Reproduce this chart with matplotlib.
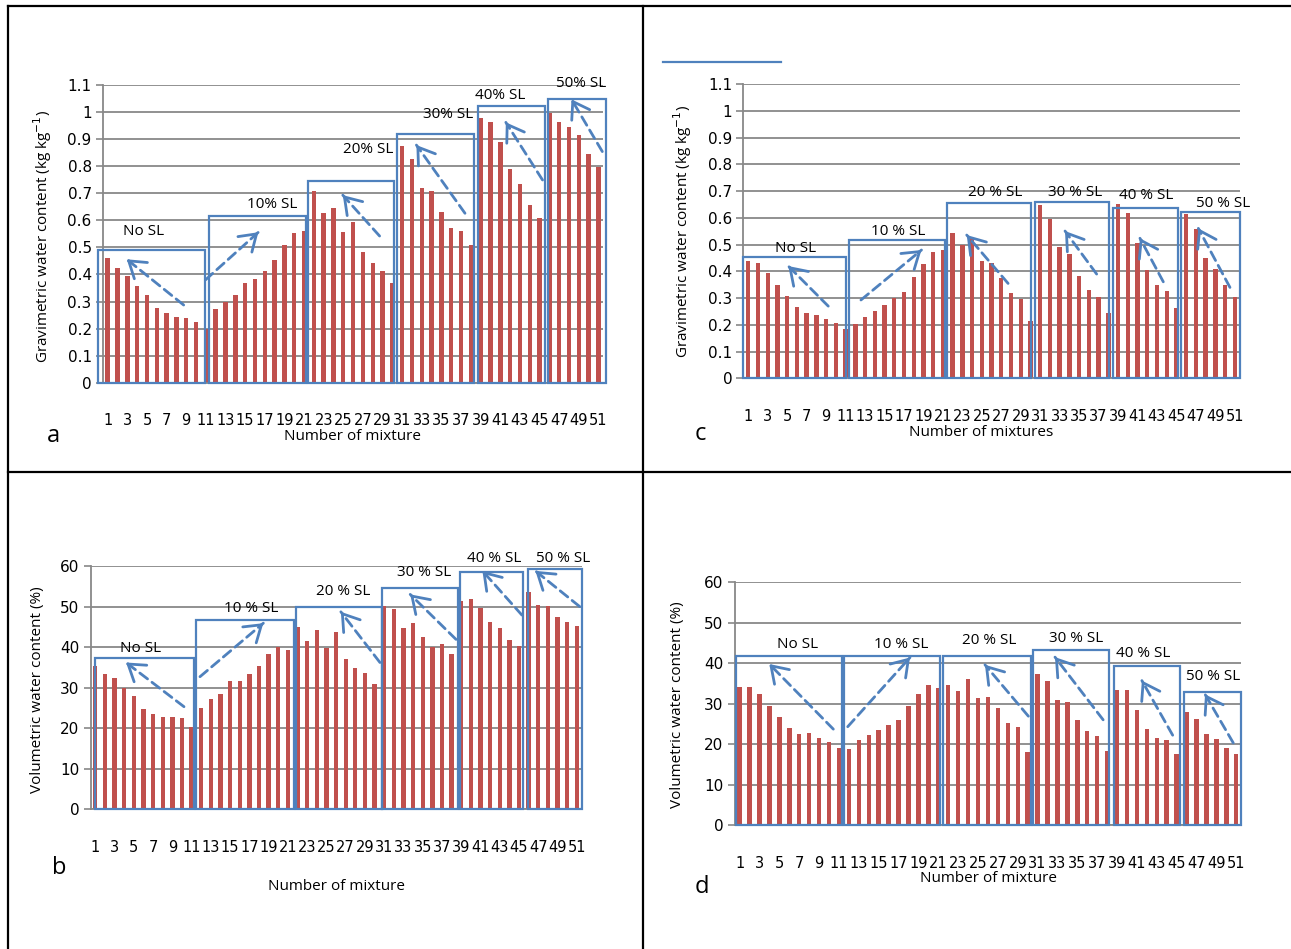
import matplotlib
matplotlib.use("Agg")
import matplotlib.pyplot as plt
from matplotlib.patches import Rectangle, FancyArrowPatch
from matplotlib.lines import Line2D
import numpy as np

W, H = 1291, 949

# ---------------- data ----------------
mixtures = list(range(1, 52))
tick_labels = [str(n) for n in range(1, 52, 2)]

grav_a = [0.459, 0.424, 0.395, 0.356, 0.324, 0.275, 0.256, 0.241, 0.238, 0.225, 0.197,
          0.271, 0.299, 0.324, 0.367, 0.383, 0.411, 0.454, 0.509, 0.552, 0.560,
          0.709, 0.626, 0.644, 0.558, 0.595, 0.484, 0.441, 0.411, 0.369,
          0.874, 0.825, 0.719, 0.707, 0.632, 0.573, 0.560, 0.509,
          0.977, 0.962, 0.889, 0.788, 0.734, 0.655, 0.608,
          0.998, 0.964, 0.943, 0.914, 0.844, 0.797]

grav_c = [0.440, 0.430, 0.395, 0.348, 0.308, 0.267, 0.243, 0.238, 0.222, 0.206, 0.186,
          0.203, 0.229, 0.252, 0.274, 0.299, 0.322, 0.379, 0.428, 0.473, 0.480,
          0.545, 0.499, 0.524, 0.440, 0.430, 0.374, 0.318, 0.296, 0.215,
          0.647, 0.596, 0.493, 0.465, 0.383, 0.330, 0.303, 0.243,
          0.652, 0.619, 0.508, 0.404, 0.349, 0.328, 0.262,
          0.615, 0.559, 0.451, 0.408, 0.349, 0.304]

vol_b = [35.3, 33.4, 32.3, 30.0, 27.9, 24.7, 23.5, 22.8, 22.8, 22.4, 20.3,
         25.1, 27.1, 28.5, 31.6, 31.6, 33.3, 35.3, 38.3, 40.1, 39.4,
         44.9, 41.6, 44.2, 39.7, 43.7, 37.1, 34.8, 33.7, 30.9,
         50.1, 49.3, 44.8, 45.9, 42.6, 40.1, 40.7, 38.2,
         51.4, 51.8, 49.7, 46.3, 44.8, 41.8, 40.3,
         53.5, 50.5, 50.1, 47.5, 46.1, 45.3]

vol_d = [34.0, 34.0, 32.3, 29.3, 26.8, 23.9, 22.4, 22.7, 21.6, 20.4, 19.0,
         18.8, 20.9, 22.2, 23.4, 24.7, 26.0, 29.4, 32.3, 34.5, 33.9,
         34.7, 33.1, 36.0, 31.4, 31.7, 28.9, 25.1, 24.2, 18.1,
         37.3, 35.6, 30.9, 30.3, 26.0, 23.2, 22.1, 18.3,
         33.3, 33.3, 28.4, 23.7, 21.4, 20.9, 17.5,
         27.9, 26.3, 22.6, 21.3, 19.0, 17.5]

# ---------------- styles ----------------
RED = "#C0504D"
BLUE = "#4F81BD"
GRID = "#888888"
NUMFONT = "DejaVu Sans"
TXTFONT = "Open Sans"

fig = plt.figure(figsize=(W / 100, H / 100), dpi=100)


def ftxt(x, y, s, **kw):
    fig.text(x / W, 1 - y / H, s, **kw)


def make_ax(l, r, t, b, ymax, ystep, yfmt):
    ax = fig.add_axes([l / W, 1 - b / H, (r - l) / W, (b - t) / H])
    ax.set_xlim(-0.5, 50.5)
    ax.set_ylim(0, ymax)
    yt = np.arange(0, ymax + ystep / 2, ystep)
    ax.set_yticks(yt)
    ax.set_yticklabels([yfmt(v) for v in yt], fontfamily=NUMFONT, fontsize=11)
    ax.set_xticks(range(0, 51, 2))
    ax.set_xticklabels(tick_labels, fontfamily=NUMFONT, fontsize=10.5)
    ax.tick_params(axis="x", length=0, pad=22)
    ax.tick_params(axis="y", length=5, color=GRID, width=1.2, pad=3)
    ax.yaxis.grid(True, color=GRID, lw=1.3)
    ax.set_axisbelow(True)
    for s in ["top", "right"]:
        ax.spines[s].set_visible(False)
    for s in ["left", "bottom"]:
        ax.spines[s].set_color(GRID)
        ax.spines[s].set_linewidth(1.3)
    return ax


def decorate(ax, values, boxes, arrows, labels):
    ax.bar(np.arange(len(values)), values, width=0.45, color=RED, zorder=2)
    for x0, x1, top in boxes:
        ax.add_patch(Rectangle((x0, 0), x1 - x0, top, fill=False, ec=BLUE, lw=1.6,
                               zorder=3, clip_on=False))
    for (tx, ty), (hx, hy) in arrows:
        line = FancyArrowPatch((tx, ty), (hx, hy), arrowstyle="-", color=BLUE, lw=2.0,
                               linestyle=(0, (3.5, 2)), shrinkA=0, shrinkB=0,
                               zorder=4, clip_on=False)
        ax.add_patch(line)
        bx, by = hx - 0.06 * (hx - tx), hy - 0.06 * (hy - ty)
        head = FancyArrowPatch((bx, by), (hx, hy),
                               arrowstyle="->,head_length=0.75,head_width=0.5",
                               mutation_scale=15, color=BLUE, lw=2.0,
                               shrinkA=0, shrinkB=0, zorder=4, clip_on=False)
        ax.add_patch(head)
    for x, y, s in labels:
        ax.text(x, y, s, ha="center", va="center", fontfamily=TXTFONT, fontsize=11,
                zorder=5, clip_on=False)


fmt_g = lambda v: ("%g" % round(v, 1))
fmt_v = lambda v: "%d" % v

# ---------- panel a ----------
ax_a = make_ax(102.8, 603.4, 85, 382.7, 1.1, 0.1, fmt_g)
decorate(ax_a, grav_a,
         boxes=[(-1.02, 9.89, 0.49), (10.3, 20.2, 0.617), (20.4, 29.13, 0.746),
                (29.5, 37.36, 0.919), (37.7, 44.5, 1.023), (44.9, 50.8, 1.05)],
         arrows=[((7.74, 0.287), (1.94, 0.456)), ((9.96, 0.38), (15.35, 0.556)),
                 ((27.7, 0.542), (23.95, 0.693)), ((36.4, 0.626), (31.45, 0.878)),
                 ((44.3, 0.749), (40.56, 0.962)), ((50.39, 0.854), (47.25, 1.047))],
         labels=[(3.64, 0.558, "No SL"), (16.8, 0.657, "10% SL"), (26.5, 0.86, "20% SL"),
                 (34.7, 0.99, "30% SL"), (40.0, 1.06, "40% SL"), (48.27, 1.106, "50% SL")])

# ---------- panel c ----------
ax_c = make_ax(743.4, 1239.7, 84.3, 378.3, 1.1, 0.1, fmt_g)
decorate(ax_c, grav_c,
         boxes=[(-0.58, 10.04, 0.455), (10.35, 20.2, 0.516), (20.45, 29.1, 0.656),
                (29.5, 37.1, 0.661), (37.45, 44.2, 0.639), (44.5, 50.5, 0.621)],
         arrows=[((8.22, 0.270), (4.11, 0.420)), ((11.58, 0.293), (17.8, 0.48)),
                 ((26.7, 0.355), (22.45, 0.536)), ((35.8, 0.390), (32.55, 0.551)),
                 ((42.65, 0.361), (40.25, 0.524)), ((49.5, 0.340), (46.25, 0.561))],
         labels=[(4.9, 0.484, "No SL"), (15.45, 0.548, "10 % SL"), (25.35, 0.694, "20 % SL"),
                 (33.6, 0.694, "30 % SL"), (40.9, 0.683, "40 % SL"), (48.75, 0.655, "50 % SL")])

# ---------- panel b ----------
ax_b = make_ax(90.5, 581.6, 566, 809.3, 60, 10, fmt_v)
decorate(ax_b, vol_b,
         boxes=[(-0.06, 10.25, 37.2), (10.46, 20.6, 46.7), (20.84, 29.77, 50.0),
                (29.77, 37.7, 54.6), (37.9, 44.4, 58.6), (44.9, 50.5, 59.2)],
         arrows=[((9.21, 25.3), (3.19, 36.2)), ((10.87, 32.7), (17.45, 45.9)),
                 ((29.56, 36.2), (25.5, 48.7)), ((37.46, 41.9), (32.7, 53.0)),
                 ((44.3, 47.9), (40.2, 58.8)), ((50.3, 50.0), (45.7, 58.8))],
         labels=[(4.7, 39.7, "No SL"), (16.2, 49.6, "10 % SL"), (25.75, 53.8, "20 % SL"),
                 (34.1, 58.4, "30 % SL"), (41.4, 61.9, "40 % SL"), (48.6, 61.9, "50 % SL")])

# ---------- panel d ----------
ax_d = make_ax(734.7, 1241.2, 582.3, 825, 60, 10, fmt_v)
decorate(ax_d, vol_d,
         boxes=[(-0.37, 10.27, 41.8), (10.5, 20.2, 41.8), (20.5, 29.3, 41.8),
                (29.5, 37.2, 43.3), (37.7, 44.3, 39.2), (44.7, 50.5, 32.9)],
         arrows=[((9.43, 23.7), (2.98, 39.8)), ((10.88, 24.3), (17.15, 41.4)),
                 ((29.07, 26.9), (24.7, 39.6)), ((36.6, 26.0), (31.75, 41.5)),
                 ((43.6, 22.2), (40.5, 35.7)), ((49.7, 20.3), (46.86, 32.3))],
         labels=[(5.8, 44.5, "No SL"), (16.3, 44.5, "10 % SL"), (25.1, 45.7, "20 % SL"),
                 (33.9, 46.2, "30 % SL"), (40.6, 42.4, "40 % SL"), (47.7, 36.8, "50 % SL")])

# ---------- axis titles ----------
ylab_kw = dict(rotation=90, ha="center", va="center", fontfamily=TXTFONT, fontsize=11)
ftxt(43, 236, "Gravimetric water content (kg kg$^{-1}$)", **ylab_kw)
ftxt(683, 231, "Gravimetric water content (kg kg$^{-1}$)", **ylab_kw)
ftxt(38, 690, "Volumetric water content (%)", **ylab_kw)
ftxt(678, 705, "Volumetric water content (%)", **ylab_kw)

xlab_kw = dict(ha="center", va="center", fontfamily=TXTFONT, fontsize=11)
ftxt(352, 437, "Number of mixture", **xlab_kw)
ftxt(981, 433, "Number of mixtures", **xlab_kw)
ftxt(337, 886, "Number of mixture", **xlab_kw)
ftxt(988, 878, "Number of mixture", **xlab_kw)

pl_kw = dict(ha="center", va="center", fontfamily=TXTFONT, fontsize=17)
ftxt(53, 436, "a", **pl_kw)
ftxt(700, 434, "c", **pl_kw)
ftxt(59, 868, "b", **pl_kw)
ftxt(702, 887, "d", **pl_kw)

# stray blue line in panel c
fig.add_artist(Line2D([663 / W, 781 / W], [1 - 61.7 / H, 1 - 61.7 / H], color=BLUE, lw=1.6))

# table borders
bk = dict(color="black", lw=1.6)
fig.add_artist(Line2D([8 / W, 1], [1 - 6 / H, 1 - 6 / H], **bk))
fig.add_artist(Line2D([8 / W, 8 / W], [1 - 6 / H, 0], **bk))
fig.add_artist(Line2D([643 / W, 643 / W], [1 - 6 / H, 0], **bk))
fig.add_artist(Line2D([8 / W, 1], [1 - 472 / H, 1 - 472 / H], **bk))

fig.savefig("out.png", dpi=100)
